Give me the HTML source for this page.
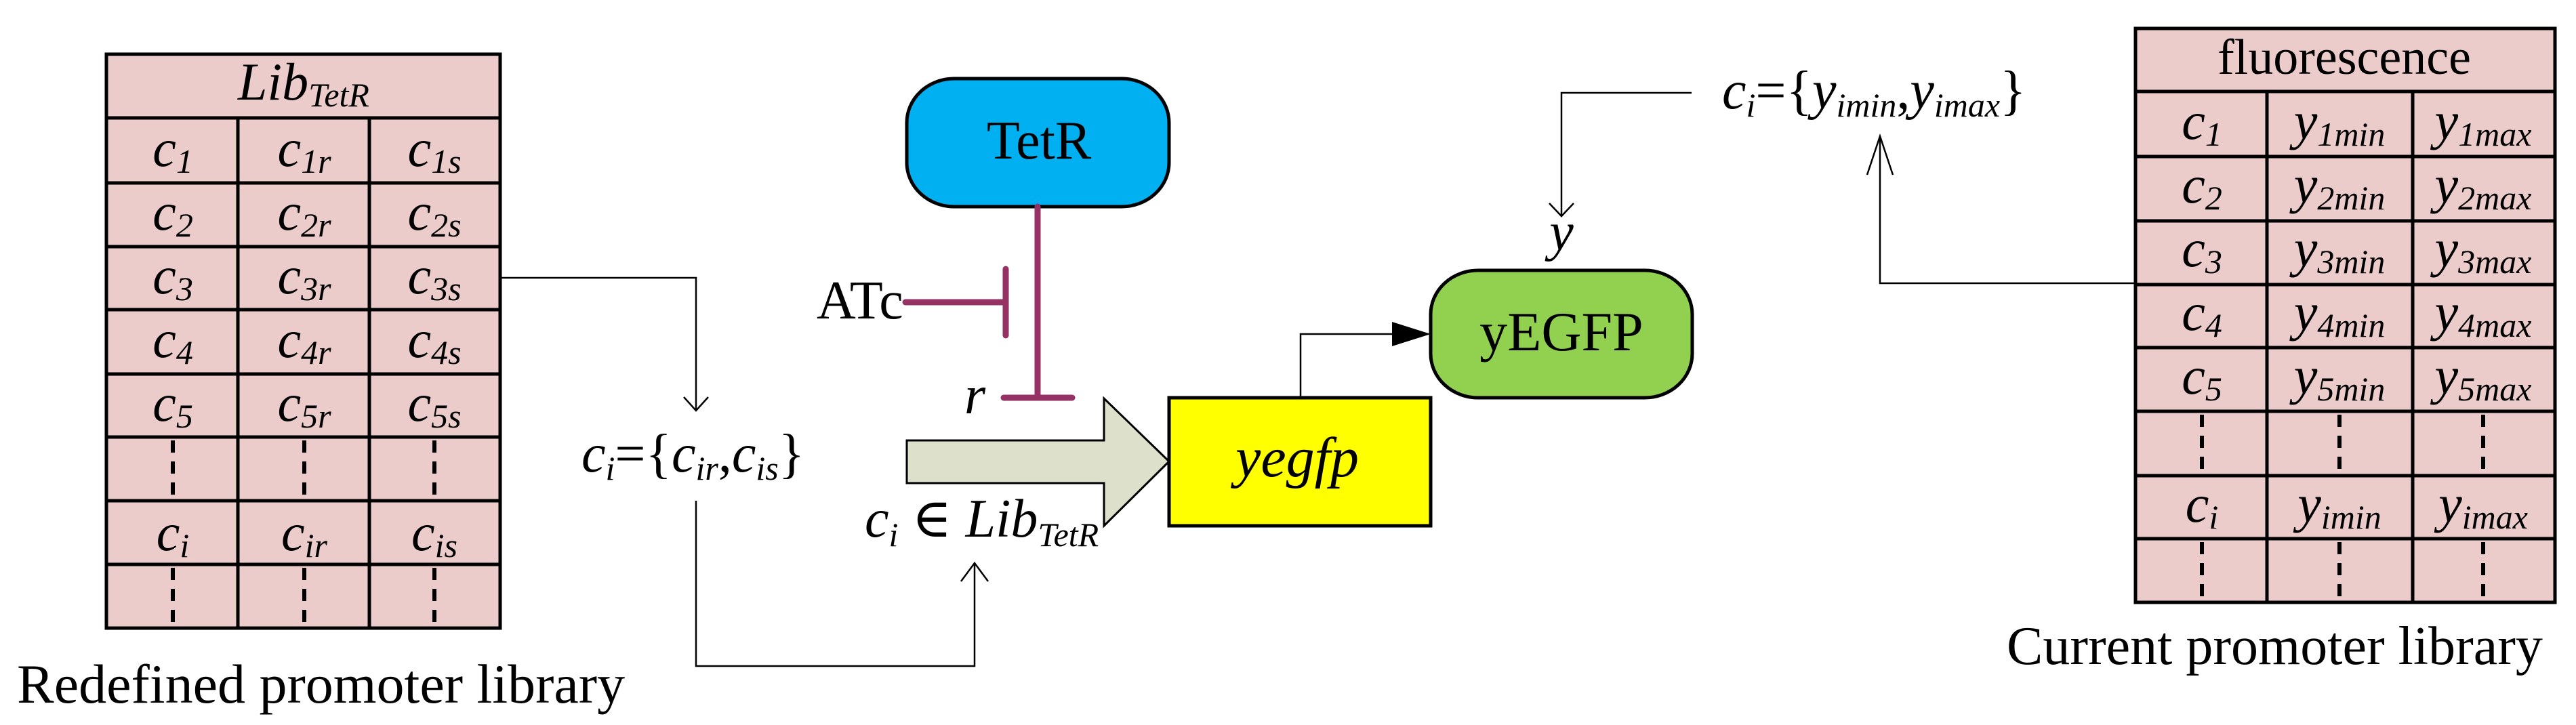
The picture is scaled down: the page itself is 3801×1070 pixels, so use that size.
<!DOCTYPE html>
<html><head><meta charset="utf-8"><style>
html,body{margin:0;padding:0;background:#fff;}
svg{display:block;font-family:"Liberation Serif","DejaVu Serif",serif;}
svg text, svg tspan{font-family:"Liberation Serif","DejaVu Serif",serif;fill:#000;}
.it{font-style:italic;}
.s{font-size:50px;}
</style></head><body>
<svg width="3801" height="1070" viewBox="0 0 3801 1070" xmlns="http://www.w3.org/2000/svg" font-family="Liberation Serif, serif">
<!-- LEFT TABLE -->
<rect x="157" y="80" width="581" height="847" fill="#EBCCCB" stroke="#000" stroke-width="5"/>
<g stroke="#000" stroke-width="5">
<line x1="157" y1="174" x2="738" y2="174"/>
<line x1="157" y1="270" x2="738" y2="270"/>
<line x1="157" y1="364" x2="738" y2="364"/>
<line x1="157" y1="457" x2="738" y2="457"/>
<line x1="157" y1="552" x2="738" y2="552"/>
<line x1="157" y1="645" x2="738" y2="645"/>
<line x1="157" y1="739" x2="738" y2="739"/>
<line x1="157" y1="833" x2="738" y2="833"/>
<line x1="351" y1="174" x2="351" y2="927"/>
<line x1="545" y1="174" x2="545" y2="927"/>
</g>
<g stroke="#000" stroke-width="6" stroke-dasharray="18 13">
<line x1="255" y1="650" x2="255" y2="732"/><line x1="449" y1="650" x2="449" y2="732"/><line x1="641" y1="650" x2="641" y2="732"/>
<line x1="255" y1="838" x2="255" y2="920"/><line x1="449" y1="838" x2="449" y2="920"/><line x1="641" y1="838" x2="641" y2="920"/>
</g>
<g font-size="78" text-anchor="middle">
<text x="448" y="147" class="it">Lib<tspan class="s" dy="10">TetR</tspan></text>
<text x="255" y="245" class="it">c<tspan class="s" dy="10">1</tspan></text>
<text x="449" y="245" class="it">c<tspan class="s" dy="10">1r</tspan></text>
<text x="641" y="245" class="it">c<tspan class="s" dy="10">1s</tspan></text>
<text x="255" y="339" class="it">c<tspan class="s" dy="10">2</tspan></text>
<text x="449" y="339" class="it">c<tspan class="s" dy="10">2r</tspan></text>
<text x="641" y="339" class="it">c<tspan class="s" dy="10">2s</tspan></text>
<text x="255" y="433" class="it">c<tspan class="s" dy="10">3</tspan></text>
<text x="449" y="433" class="it">c<tspan class="s" dy="10">3r</tspan></text>
<text x="641" y="433" class="it">c<tspan class="s" dy="10">3s</tspan></text>
<text x="255" y="527" class="it">c<tspan class="s" dy="10">4</tspan></text>
<text x="449" y="527" class="it">c<tspan class="s" dy="10">4r</tspan></text>
<text x="641" y="527" class="it">c<tspan class="s" dy="10">4s</tspan></text>
<text x="255" y="621" class="it">c<tspan class="s" dy="10">5</tspan></text>
<text x="449" y="621" class="it">c<tspan class="s" dy="10">5r</tspan></text>
<text x="641" y="621" class="it">c<tspan class="s" dy="10">5s</tspan></text>
<text x="255" y="812" class="it">c<tspan class="s" dy="10">i</tspan></text>
<text x="449" y="812" class="it">c<tspan class="s" dy="10">ir</tspan></text>
<text x="641" y="812" class="it">c<tspan class="s" dy="10">is</tspan></text>
</g>
<text x="25" y="1037" font-size="82">Redefined promoter library</text>

<!-- RIGHT TABLE -->
<rect x="3151" y="42" width="619" height="847" fill="#EBCCCB" stroke="#000" stroke-width="5"/>
<g stroke="#000" stroke-width="5">
<line x1="3151" y1="135" x2="3770" y2="135"/>
<line x1="3151" y1="231" x2="3770" y2="231"/>
<line x1="3151" y1="326" x2="3770" y2="326"/>
<line x1="3151" y1="420" x2="3770" y2="420"/>
<line x1="3151" y1="513" x2="3770" y2="513"/>
<line x1="3151" y1="607" x2="3770" y2="607"/>
<line x1="3151" y1="702" x2="3770" y2="702"/>
<line x1="3151" y1="795" x2="3770" y2="795"/>
<line x1="3345" y1="135" x2="3345" y2="889"/>
<line x1="3560" y1="135" x2="3560" y2="889"/>
</g>
<g stroke="#000" stroke-width="6" stroke-dasharray="18 13">
<line x1="3249" y1="612" x2="3249" y2="694"/><line x1="3452" y1="612" x2="3452" y2="694"/><line x1="3664" y1="612" x2="3664" y2="694"/>
<line x1="3249" y1="800" x2="3249" y2="882"/><line x1="3452" y1="800" x2="3452" y2="882"/><line x1="3664" y1="800" x2="3664" y2="882"/>
</g>
<text x="3459" y="109" font-size="74" text-anchor="middle">fluorescence</text>
<g font-size="78" text-anchor="middle">
<text x="3249" y="205" class="it">c<tspan class="s" dy="10">1</tspan></text>
<text x="3452" y="205" class="it">y<tspan class="s" dy="10">1min</tspan></text>
<text x="3664" y="205" class="it">y<tspan class="s" dy="10">1max</tspan></text>
<text x="3249" y="299" class="it">c<tspan class="s" dy="10">2</tspan></text>
<text x="3452" y="299" class="it">y<tspan class="s" dy="10">2min</tspan></text>
<text x="3664" y="299" class="it">y<tspan class="s" dy="10">2max</tspan></text>
<text x="3249" y="393" class="it">c<tspan class="s" dy="10">3</tspan></text>
<text x="3452" y="393" class="it">y<tspan class="s" dy="10">3min</tspan></text>
<text x="3664" y="393" class="it">y<tspan class="s" dy="10">3max</tspan></text>
<text x="3249" y="487" class="it">c<tspan class="s" dy="10">4</tspan></text>
<text x="3452" y="487" class="it">y<tspan class="s" dy="10">4min</tspan></text>
<text x="3664" y="487" class="it">y<tspan class="s" dy="10">4max</tspan></text>
<text x="3249" y="581" class="it">c<tspan class="s" dy="10">5</tspan></text>
<text x="3452" y="581" class="it">y<tspan class="s" dy="10">5min</tspan></text>
<text x="3664" y="581" class="it">y<tspan class="s" dy="10">5max</tspan></text>
<text x="3249" y="770" class="it">c<tspan class="s" dy="10">i</tspan></text>
<text x="3452" y="770" class="it">y<tspan class="s" dy="10">imin</tspan></text>
<text x="3664" y="770" class="it">y<tspan class="s" dy="10">imax</tspan></text>
</g>
<text x="2961" y="980" font-size="80">Current promoter library</text>

<!-- thin connectors -->
<g fill="none" stroke="#000" stroke-width="2.5">
<polyline points="738,410 1027,410 1027,606"/>
<polyline points="1009,586 1027,606 1045,586"/>
<polyline points="1027,739 1027,983 1438,983 1438,831"/>
<polyline points="1418,858 1438,831 1458,858"/>
<polyline points="2496,137 2304,137 2304,319"/>
<polyline points="2286,300 2304,319 2322,300"/>
<polyline points="3151,418 2774,418 2774,201"/>
<polyline points="2755,258 2774,201 2793,258"/>
<polyline points="1919,587 1919,493 2058,493"/>
</g>
<polygon points="2054,475 2111,493 2054,511" fill="#000"/>

<!-- formulas -->
<text x="858" y="696" font-size="80" class="it">c<tspan class="s" dy="12">i</tspan><tspan dy="-12" font-style="normal">={</tspan>c<tspan class="s" dy="12">ir</tspan><tspan dy="-12" font-style="normal">,</tspan>c<tspan class="s" dy="12">is</tspan><tspan dy="-12" font-style="normal">}</tspan></text>
<text x="2541" y="160" font-size="80" class="it">c<tspan class="s" dy="12">i</tspan><tspan dy="-12" font-style="normal">={</tspan>y<tspan class="s" dy="12">imin</tspan><tspan dy="-12" font-style="normal">,</tspan>y<tspan class="s" dy="12">imax</tspan><tspan dy="-12" font-style="normal">}</tspan></text>
<text x="1276" y="792" font-size="80" class="it">c<tspan class="s" dy="14">i</tspan><tspan dy="-14" font-style="normal"> ∈ </tspan>Lib<tspan class="s" dy="14">TetR</tspan></text>

<!-- TetR -->
<rect x="1338" y="116" width="387" height="189" rx="70" ry="65" fill="#00B0F0" stroke="#000" stroke-width="5"/>
<text x="1533" y="234" font-size="80" text-anchor="middle">TetR</text>
<g stroke="#953163" stroke-width="9" stroke-linecap="round">
<line x1="1531" y1="305" x2="1531" y2="587"/>
<line x1="1481" y1="587" x2="1582" y2="587"/>
<line x1="1336" y1="446" x2="1484" y2="446"/>
<line x1="1484" y1="397" x2="1484" y2="495"/>
</g>
<text x="1205" y="470" font-size="80">ATc</text>
<text x="1423" y="610" font-size="80" class="it">r</text>

<!-- big arrow -->
<polygon points="1338,650 1629,650 1629,588 1725,681 1629,776 1629,713 1338,713" fill="#DDE1CC" stroke="#000" stroke-width="3"/>

<!-- yegfp -->
<rect x="1725" y="587" width="386" height="189" fill="#FFFF00" stroke="#000" stroke-width="5"/>
<text x="1914" y="703" font-size="84" class="it" text-anchor="middle">yegfp</text>

<!-- yEGFP -->
<rect x="2111" y="399" width="386" height="188" rx="70" ry="65" fill="#92D050" stroke="#000" stroke-width="5"/>
<text x="2304" y="517" font-size="82" text-anchor="middle">yEGFP</text>
<text x="2304" y="369" font-size="80" class="it" text-anchor="middle">y</text>
</svg>
</body></html>
